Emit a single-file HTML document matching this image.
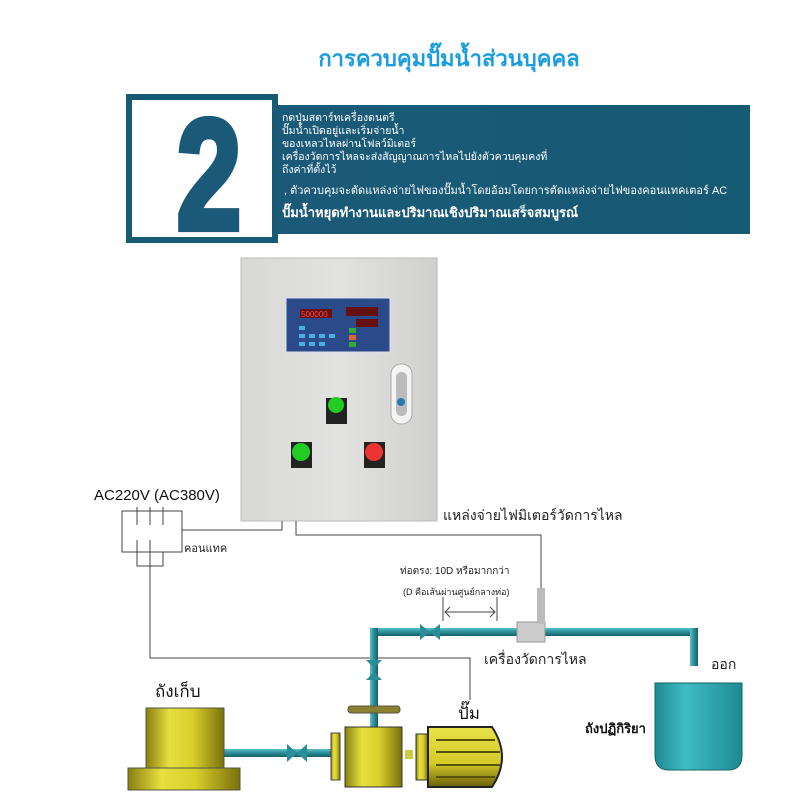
<!DOCTYPE html>
<html><head><meta charset="utf-8"><style>
body{margin:0;width:807px;height:807px;background:#fff;overflow:hidden}
svg{display:block}
text{font-family:"Liberation Sans","Noto Sans CJK SC",sans-serif}
</style></head><body>
<svg width="807" height="807" viewBox="0 0 807 807" xmlns="http://www.w3.org/2000/svg">
<defs>
<linearGradient id="ban" x1="0" x2="1"><stop offset="0" stop-color="#1a5a78"/><stop offset="1" stop-color="#175a73"/></linearGradient>
<linearGradient id="cab" x1="0" x2="1"><stop offset="0" stop-color="#d8d8d6"/><stop offset="0.5" stop-color="#e2e2e0"/><stop offset="1" stop-color="#d0d0ce"/></linearGradient>
<linearGradient id="yel" x1="0" x2="1"><stop offset="0" stop-color="#8a8010"/><stop offset="0.3" stop-color="#e6e040"/><stop offset="0.6" stop-color="#d8cf2a"/><stop offset="1" stop-color="#7a700c"/></linearGradient>
<linearGradient id="yelv" x1="0" y1="0" x2="0" y2="1"><stop offset="0" stop-color="#e8e24a"/><stop offset="0.6" stop-color="#d4cb28"/><stop offset="1" stop-color="#6a600a"/></linearGradient>
<linearGradient id="cy" x1="0" x2="1"><stop offset="0" stop-color="#1f8a92"/><stop offset="0.35" stop-color="#3fbcc4"/><stop offset="1" stop-color="#1e8a92"/></linearGradient>
<linearGradient id="pipeh" x1="0" y1="0" x2="0" y2="1"><stop offset="0" stop-color="#5cc0c6"/><stop offset="0.5" stop-color="#2a8e98"/><stop offset="1" stop-color="#185e68"/></linearGradient>
<linearGradient id="pipev" x1="0" x2="1"><stop offset="0" stop-color="#5cc0c6"/><stop offset="0.5" stop-color="#2a8e98"/><stop offset="1" stop-color="#185e68"/></linearGradient>
</defs>

<text x="449" y="66" text-anchor="middle" font-size="22" fill="#1a9de0" font-weight="bold">การควบคุมปั๊มน้ำส่วนบุคคล</text>

<rect x="276" y="105" width="474" height="129" fill="url(#ban)"/>
<rect x="126" y="94" width="152" height="149" fill="#175a73"/>
<rect x="132" y="100" width="140" height="137" fill="#fff"/>
<text x="0" y="0" text-anchor="middle" font-size="150" font-weight="bold" fill="#1a5a78" stroke="#1a5a78" stroke-width="6" transform="translate(209,229) scale(0.78,1.05)">2</text>
<g fill="#fff" font-size="10.5">
<text x="282" y="121">กดปุ่มสตาร์ทเครื่องดนตรี</text>
<text x="282" y="134">ปั๊มน้ำเปิดอยู่และเริ่มจ่ายน้ำ</text>
<text x="282" y="147">ของเหลวไหลผ่านโฟลว์มิเตอร์</text>
<text x="282" y="160">เครื่องวัดการไหลจะส่งสัญญาณการไหลไปยังตัวควบคุมคงที่</text>
<text x="282" y="173">ถึงค่าที่ตั้งไว้</text>
<text x="284" y="194" font-size="11">, ตัวควบคุมจะตัดแหล่งจ่ายไฟของปั๊มน้ำโดยอ้อมโดยการตัดแหล่งจ่ายไฟของคอนแทคเตอร์ AC</text>
<text x="282" y="217" font-size="13" font-weight="bold">ปั๊มน้ำหยุดทำงานและปริมาณเชิงปริมาณเสร็จสมบูรณ์</text>
</g>

<!-- cabinet -->
<rect x="241" y="258" width="196" height="263" fill="url(#cab)" stroke="#bbb"/>
<rect x="286" y="298" width="104" height="54" fill="#2a4a8a" stroke="#dde"/>
<rect x="300" y="309" width="32" height="9" fill="#611"/><text x="301" y="317" font-size="8" fill="#f44">500000</text>
<rect x="346" y="307" width="32" height="9" fill="#611"/>
<rect x="356" y="319" width="22" height="8" fill="#611"/>
<g fill="#4ab0e0"><rect x="299" y="326" width="6" height="4"/><rect x="299" y="334" width="6" height="4"/><rect x="309" y="334" width="6" height="4"/><rect x="319" y="334" width="6" height="4"/><rect x="329" y="334" width="6" height="4"/><rect x="299" y="342" width="6" height="4"/><rect x="309" y="342" width="6" height="4"/><rect x="319" y="342" width="6" height="4"/></g>
<rect x="349" y="328" width="7" height="5" fill="#3a3"/><rect x="349" y="335" width="7" height="5" fill="#d63"/><rect x="349" y="342" width="7" height="5" fill="#3a3"/>
<rect x="391" y="364" width="21" height="60" rx="10" fill="#f4f4f4" stroke="#aaa"/>
<rect x="396" y="372" width="11" height="44" rx="5" fill="#bbb"/>
<circle cx="401" cy="402" r="4" fill="#2a7ab0"/>
<rect x="326" y="398" width="21" height="26" fill="#222"/><circle cx="336" cy="405" r="8" fill="#2c2"/>
<rect x="291" y="442" width="21" height="26" fill="#222"/><circle cx="301" cy="452" r="9" fill="#2c2"/>
<rect x="364" y="442" width="21" height="26" fill="#222"/><circle cx="374" cy="452" r="9" fill="#e33"/>

<!-- wires -->
<g stroke="#444" stroke-width="1" fill="none">
<rect x="122" y="511" width="60" height="41"/>
<rect x="137" y="552" width="26" height="14"/>
<line x1="137" y1="507" x2="137" y2="525"/><line x1="150" y1="507" x2="150" y2="525"/><line x1="163" y1="507" x2="163" y2="525"/>
<line x1="137" y1="540" x2="137" y2="566"/><line x1="150" y1="540" x2="150" y2="566"/>
<polyline points="182,530 282,530 282,521"/>
<polyline points="296,521 296,535 541,535 541,590"/>
<polyline points="150,566 150,658 470,658 470,700"/>
<line x1="443" y1="597" x2="443" y2="621"/><line x1="497" y1="597" x2="497" y2="621"/>
<line x1="445" y1="612" x2="495" y2="612"/>
<polyline points="450,607 445,612 450,617"/><polyline points="490,607 495,612 490,617"/>
</g>
<text x="94" y="500" font-size="15" fill="#111">AC220V (AC380V)</text>
<text x="184" y="552" font-size="11" fill="#222">คอนแทค</text>
<text x="443" y="520" font-size="14" fill="#222">แหล่งจ่ายไฟมิเตอร์วัดการไหล</text>
<text x="400" y="574" font-size="10" fill="#222">ท่อตรง: 10D หรือมากกว่า</text>
<text x="403" y="595" font-size="9" fill="#222">(D คือเส้นผ่านศูนย์กลางท่อ)</text>
<text x="484" y="664" font-size="14" fill="#222">เครื่องวัดการไหล</text>
<text x="711" y="669" font-size="14" fill="#222">ออก</text>
<text x="155" y="697" font-size="17" fill="#111">ถังเก็บ</text>
<text x="458" y="719" font-size="17" fill="#111">ปั๊ม</text>

<!-- pipes -->
<rect x="370" y="628" width="328" height="8" fill="url(#pipeh)"/>
<rect x="370" y="628" width="8" height="100" fill="url(#pipev)"/>
<rect x="690" y="628" width="8" height="38" fill="url(#pipev)"/>
<path d="M420,624 L430,632 L420,640Z M440,624 L430,632 L440,640Z" fill="#2a8e98"/>
<path d="M366,660 L374,668 L382,660Z M366,680 L374,672 L382,680Z" fill="#2a8e98"/>
<rect x="517" y="622" width="28" height="20" fill="#ccc" stroke="#999"/>
<rect x="537" y="588" width="8" height="36" fill="#bbb"/>
<rect x="224" y="749" width="110" height="8" fill="url(#pipeh)"/>
<path d="M287,744 L297,753 L287,762Z M307,744 L297,753 L307,762Z" fill="#2a8e98"/>

<!-- storage tank -->
<rect x="146" y="708" width="78" height="62" fill="url(#yel)" stroke="#554"/>
<rect x="128" y="768" width="112" height="22" fill="url(#yel)" stroke="#554"/>
<!-- pump -->
<rect x="348" y="706" width="52" height="7" rx="3" fill="#8a8030" stroke="#554"/>
<rect x="331" y="733" width="9" height="47" fill="url(#yel)" stroke="#444"/>
<rect x="345" y="727" width="57" height="60" fill="url(#yel)" stroke="#333"/>
<rect x="405" y="750" width="8" height="9" fill="#cc4"/>
<rect x="416" y="734" width="12" height="46" fill="url(#yel)" stroke="#333"/>
<path d="M428,727 L492,727 Q512,757 492,787 L428,787Z" fill="url(#yelv)" stroke="#222" stroke-width="2"/>
<g stroke="#5a5208" stroke-width="2"><line x1="436" y1="740" x2="495" y2="740"/><line x1="436" y1="752" x2="500" y2="752"/><line x1="436" y1="765" x2="500" y2="765"/><line x1="436" y1="777" x2="495" y2="777"/></g>

<!-- reaction tank -->
<path d="M655,683 L742,683 L742,755 Q742,770 728,770 L669,770 Q655,770 655,755Z" fill="url(#cy)" stroke="#166"/>
<text x="585" y="733" font-size="13" font-weight="bold" fill="#111">ถังปฏิกิริยา</text>
</svg>
</body></html>
